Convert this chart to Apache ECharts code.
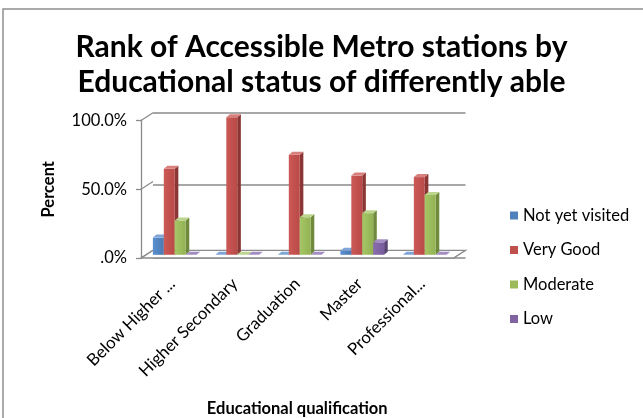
<!DOCTYPE html>
<html>
<head>
<meta charset="utf-8">
<script src="https://cdn.jsdelivr.net/npm/echarts@6/dist/echarts.min.js"></script>
<style>
  html, body { margin: 0; padding: 0; background: #ffffff; }
  #chart { width: 643px; height: 418px; }
</style>
</head>
<body>
<div id="chart"></div>
<script>
// Educational qualification groups (x axis)
const categories = ['Below Higher ...', 'Higher Secondary', 'Graduation', 'Master', 'Professional...'];

// Share of respondents per rating, in percent
const notYetVisited = [12.5, 0, 0, 3.0, 0];
const veryGood      = [62.5, 100, 72.7, 57.6, 56.5];
const moderate      = [25.0, 0, 27.3, 30.3, 43.5];
const low           = [0, 0, 0, 9.1, 0];

const seriesNames = ['Not yet visited', 'Very Good', 'Moderate', 'Low'];
const seriesColors = ['#4F81BD', '#C0504D', '#9BBB59', '#8064A2'];
const yTicks = [0, 50, 100];

const FONT = 'Lato, "Open Sans", sans-serif';
const LINE = '#8a8a8a';

// pseudo-3D geometry (pixels): wall depth and bar placement
const WALL_DX = 12, WALL_DY = 7.7;
const BAR_DX = 2.5, BAR_DY = 3.2;      // bar plane offset behind the front plane
const SIDE_DX = 3.6, SIDE_DY = 3.0;    // bar depth

const palette = [
  { front: ['#5b8fcf', '#4a7ab4'], side: '#365c8a', top: '#7ea5d8' },
  { front: ['#cc5956', '#b84a47'], side: '#8b3634', top: '#d8807d' },
  { front: ['#a6c766', '#92b153'], side: '#6f8a3c', top: '#bcd58e' },
  { front: ['#8a6db0', '#775c9a'], side: '#594474', top: '#a38cc2' }
];

function barRenderer(idx) {
  const c = palette[idx];
  return function (params, api) {
    const cat = api.value(0);
    const val = api.value(1);
    const band = api.size([1, 0])[0];
    const w = band * 0.175;
    const base = api.coord([cat, 0]);
    const top = api.coord([cat, val]);
    const x0 = base[0] + (idx - 2) * w + BAR_DX;
    const x1 = x0 + w;
    const yb = base[1] - BAR_DY;
    const yt = top[1] - BAR_DY;
    return {
      type: 'group',
      children: [
        {
          type: 'polygon',
          shape: { points: [[x1, yt], [x1 + SIDE_DX, yt - SIDE_DY], [x1 + SIDE_DX, yb - SIDE_DY], [x1, yb]] },
          style: { fill: c.side }
        },
        {
          type: 'rect',
          shape: { x: x0, y: yt, width: w, height: Math.max(yb - yt, 0) },
          style: {
            fill: new echarts.graphic.LinearGradient(0, 0, 1, 0, [
              { offset: 0, color: c.front[0] }, { offset: 1, color: c.front[1] }
            ])
          }
        },
        {
          type: 'polygon',
          shape: { points: [[x0, yt], [x0 + SIDE_DX, yt - SIDE_DY], [x1 + SIDE_DX, yt - SIDE_DY], [x1, yt]] },
          style: { fill: c.top }
        }
      ]
    };
  };
}

// side wall edges and floor slab
function wallRenderer(params, api) {
  const band = api.size([1, 0])[0];
  const p0 = api.coord([0, 0]);
  const pEnd = api.coord([categories.length - 1, 0]);
  const xl = p0[0] - band / 2;
  const xr = pEnd[0] + band / 2;
  const y0 = p0[1];
  const children = [
    {
      type: 'polygon',
      shape: { points: [[xl, y0], [xr, y0], [xr + WALL_DX, y0 - WALL_DY], [xl + WALL_DX, y0 - WALL_DY]] },
      style: { fill: '#ffffff', stroke: LINE, lineWidth: 1.3 }
    }
  ];
  yTicks.forEach(function (v) {
    const p = api.coord([0, v]);
    children.push({
      type: 'line',
      shape: { x1: xl, y1: p[1], x2: xl + WALL_DX, y2: p[1] - WALL_DY },
      style: { stroke: LINE, lineWidth: 1.3 }
    });
  });
  return { type: 'group', children: children };
}

const seriesData = [notYetVisited, veryGood, moderate, low];

const chart = echarts.init(document.getElementById('chart'));
chart.setOption({
  backgroundColor: '#ffffff',
  animation: false,
  legend: {
    orient: 'vertical',
    left: 505,
    top: 202,
    itemWidth: 8,
    itemHeight: 8,
    itemGap: 17.5,
    icon: 'rect',
    data: seriesNames,
    textStyle: { fontFamily: FONT, fontSize: 16.5, color: '#000' }
  },
  graphic: [
    {
      type: 'rect',
      shape: { x: 3, y: 9, width: 700, height: 500 },
      style: { fill: null, stroke: '#8f8f8f', lineWidth: 1.5 },
      silent: true
    },
    {
      type: 'text',
      x: 321.5,
      y: 30,
      silent: true,
      style: {
        text: 'Rank of Accessible Metro stations by\nEducational status of differently able',
        align: 'center',
        verticalAlign: 'top',
        fontFamily: FONT,
        fontSize: 30,
        fontWeight: 'bold',
        lineHeight: 35,
        fill: '#000'
      }
    }
  ],
  grid: [
    { left: 141, top: 120.5, width: 312.5, height: 144.5 },
    { left: 141 + WALL_DX, top: 120.5 - WALL_DY, width: 312.5, height: 144.5 }
  ],
  xAxis: [
    {
      type: 'category',
      gridIndex: 0,
      data: categories,
      axisLine: { show: false },
      axisTick: { show: false },
      axisLabel: { rotate: 45, margin: 23, fontFamily: FONT, fontSize: 16.8, color: '#000', interval: 0 },
      name: 'Educational qualification',
      nameLocation: 'middle',
      nameGap: 142,
      nameTextStyle: { fontFamily: FONT, fontSize: 16.5, fontWeight: 'bold', color: '#000' }
    },
    {
      type: 'category',
      gridIndex: 1,
      data: categories,
      show: false
    }
  ],
  yAxis: [
    {
      type: 'value',
      gridIndex: 0,
      min: 0,
      max: 100,
      interval: 50,
      axisLine: { show: true, lineStyle: { color: LINE, width: 1.3 } },
      axisTick: { show: true, inside: false, length: 5, lineStyle: { color: LINE, width: 1.3 } },
      splitLine: { show: false },
      axisLabel: {
        margin: 14,
        fontFamily: FONT,
        fontSize: 16.5,
        color: '#000',
        formatter: function (v) { return v === 0 ? '.0%' : v.toFixed(1) + '%'; }
      },
      name: 'Percent',
      nameLocation: 'middle',
      nameRotate: 90,
      nameGap: 84,
      nameTextStyle: { fontFamily: FONT, fontSize: 16.5, fontWeight: 'bold', color: '#000' }
    },
    {
      type: 'value',
      gridIndex: 1,
      min: 0,
      max: 100,
      interval: 50,
      axisLine: { show: false },
      axisTick: { show: false },
      axisLabel: { show: false },
      splitLine: { show: true, lineStyle: { color: LINE, width: 1.5 } }
    }
  ],
  series: [
    {
      type: 'custom',
      name: 'walls',
      xAxisIndex: 0,
      yAxisIndex: 0,
      silent: true,
      z: 1,
      renderItem: wallRenderer,
      data: [[0, 0]]
    }
  ].concat(seriesNames.map(function (name, i) {
    return {
      type: 'custom',
      name: name,
      xAxisIndex: 0,
      yAxisIndex: 0,
      z: 3,
      itemStyle: { color: seriesColors[i] },
      renderItem: barRenderer(i),
      encode: { x: 0, y: 1 },
      data: seriesData[i].map(function (v, k) { return [k, v]; })
    };
  }))
});
</script>
</body>
</html>
